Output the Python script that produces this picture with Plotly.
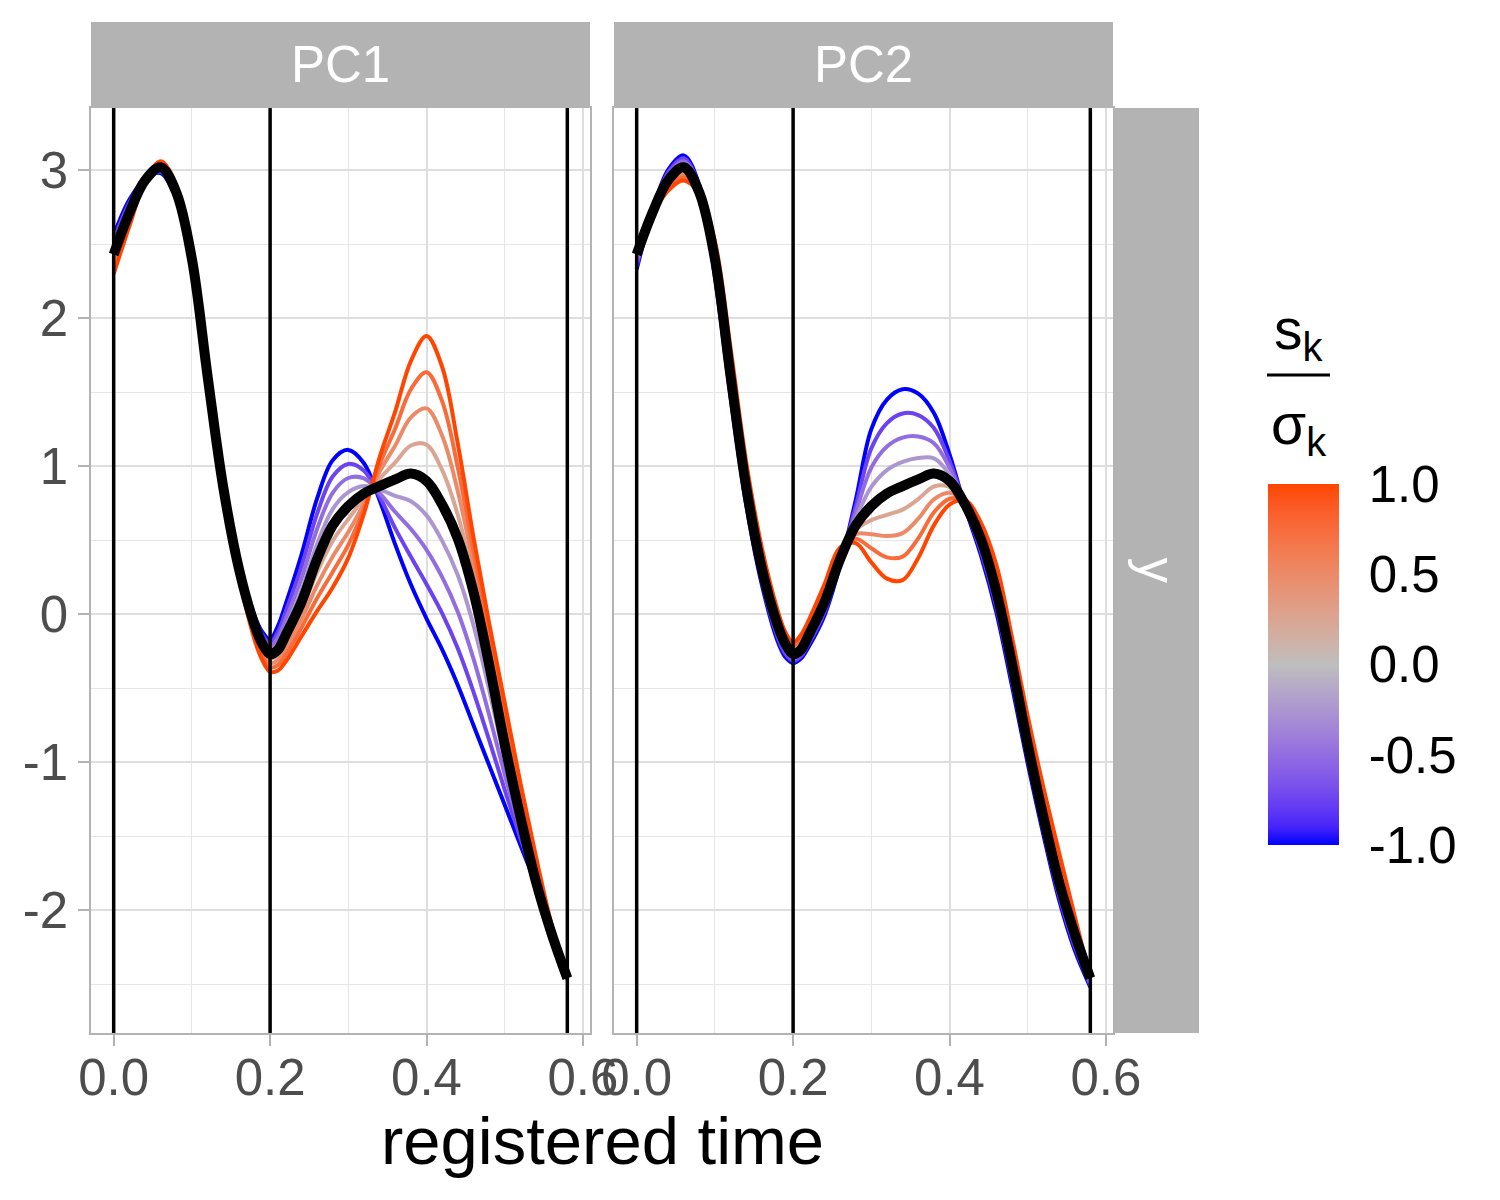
import numpy as np
import plotly.graph_objects as go

# registered time grid and curves
t_grid = [0.00, 0.02, 0.04, 0.06, 0.08, 0.10, 0.12, 0.14, 0.16, 0.18,
          0.19, 0.20, 0.21, 0.22, 0.24, 0.26, 0.28, 0.30, 0.32, 0.34,
          0.36, 0.38, 0.40, 0.42, 0.44, 0.46, 0.48, 0.50, 0.52, 0.54,
          0.56, 0.58]

mean_curve = [2.43, 2.71, 2.93, 3.02, 2.85, 2.40, 1.61, 0.86, 0.31, -0.07,
              -0.20, -0.27, -0.24, -0.14, 0.08, 0.37, 0.60, 0.73, 0.815, 0.865,
              0.91, 0.95, 0.90, 0.74, 0.51, 0.15, -0.34, -0.88, -1.37, -1.81,
              -2.16, -2.46]

# s_k / sigma_k = +1 and -1 curves
pc1_plus = [2.30, 2.62, 2.92, 3.06, 2.90, 2.43, 1.62, 0.84, 0.26, -0.17,
            -0.31, -0.39, -0.38, -0.32, -0.15, 0.02, 0.18, 0.38, 0.68, 1.06,
            1.37, 1.71, 1.88, 1.67, 1.15, 0.52, -0.06, -0.60, -1.14, -1.64,
            -2.10, -2.46]
pc1_minus = [2.56, 2.80, 2.94, 2.98, 2.81, 2.37, 1.60, 0.88, 0.35, -0.01,
             -0.12, -0.17, -0.08, 0.07, 0.40, 0.78, 1.04, 1.11, 1.02, 0.77,
             0.47, 0.20, -0.03, -0.24, -0.48, -0.75, -1.02, -1.29, -1.56, -1.83,
             -2.12, -2.47]

pc2_plus = [2.50, 2.70, 2.86, 2.93, 2.84, 2.52, 1.80, 1.03, 0.45, 0.03,
            -0.12, -0.19, -0.14, -0.04, 0.20, 0.45, 0.48, 0.35, 0.24, 0.23,
            0.38, 0.60, 0.74, 0.77, 0.62, 0.33, -0.16, -0.69, -1.17, -1.61,
            -2.04, -2.46]
pc2_minus = [2.33, 2.72, 3.00, 3.10, 2.90, 2.28, 1.47, 0.74, 0.20, -0.18,
             -0.29, -0.33, -0.30, -0.22, -0.01, 0.33, 0.77, 1.25, 1.45, 1.52,
             1.49, 1.36, 1.08, 0.72, 0.40, 0.01, -0.49, -1.01, -1.49, -1.93,
             -2.27, -2.52]

s_levels = [-1.0, -0.75, -0.5, -0.25, 0.0, 0.25, 0.5, 0.75, 1.0]
landmarks = [0.0, 0.2, 0.58]

panels = ["PC1", "PC2"]
x_ticks = [0.0, 0.2, 0.4, 0.6]
x_ticklabels = ["0.0", "0.2", "0.4", "0.6"]
y_ticks = [-2, -1, 0, 1, 2, 3]
y_ticklabels = ["-2", "-1", "0", "1", "2", "3"]
cb_ticks = [-1.0, -0.5, 0.0, 0.5, 1.0]
cb_ticklabels = ["-1.0", "-0.5", "0.0", "0.5", "1.0"]

# the page puts the figure 8px in from the top-left corner
OFF = 8
W, H = 1500 - 2 * OFF, 1200 - 2 * OFF
FONT = "Liberation Sans, Arial, sans-serif"


def px(x):
    return (x - OFF) / W


def py(y):
    return 1 - (y - OFF) / H


# ---- colour gradient (low blue, mid grey, high orangered, in Lab) ----
def _to_lab(hexc):
    rgb = [int(hexc[i:i + 2], 16) / 255 for i in (1, 3, 5)]
    lin = [c / 12.92 if c <= 0.04045 else ((c + 0.055) / 1.055) ** 2.4 for c in rgb]
    r, g, b = lin
    X = (0.4124564 * r + 0.3575761 * g + 0.1804375 * b) / 0.95047
    Y = 0.2126729 * r + 0.7151522 * g + 0.0721750 * b
    Z = (0.0193339 * r + 0.1191920 * g + 0.9503041 * b) / 1.08883
    d = 6 / 29
    f = lambda v: v ** (1 / 3) if v > d ** 3 else v / (3 * d * d) + 4 / 29
    fx, fy, fz = f(X), f(Y), f(Z)
    return 116 * fy - 16, 500 * (fx - fy), 200 * (fy - fz)


def _to_hex(lab):
    L, a, b = lab
    fy = (L + 16) / 116
    fx = fy + a / 500
    fz = fy - b / 200
    d = 6 / 29
    fi = lambda v: v ** 3 if v > d else 3 * d * d * (v - 4 / 29)
    X, Y, Z = fi(fx) * 0.95047, fi(fy), fi(fz) * 1.08883
    r = 3.2404542 * X - 1.5371385 * Y - 0.4985314 * Z
    g = -0.9692660 * X + 1.8760108 * Y + 0.0415560 * Z
    bb = 0.0556434 * X - 0.2040259 * Y + 1.0572252 * Z
    out = []
    for c in (r, g, bb):
        c = 12.92 * c if c <= 0.0031308 else 1.055 * c ** (1 / 2.4) - 0.055
        out.append(int(round(min(max(c, 0), 1) * 255)))
    return "#%02X%02X%02X" % tuple(out)


LOW, MID, HIGH = _to_lab("#0000FF"), _to_lab("#BEBEBE"), _to_lab("#FF4500")


def s_colour(s):
    end = HIGH if s >= 0 else LOW
    w = abs(s)
    return _to_hex(tuple(MID[i] + w * (end[i] - MID[i]) for i in range(3)))


colorscale = [[(v + 1) / 2, s_colour(v)] for v in np.linspace(-1, 1, 21)]

# ---- geometry (pixels of the target picture) ----
px_panels = [(91, 590), (614, 1113)]
py_top, py_bot = 108, 1033
strip_top = 22
rstrip = (1113, 1199)
cb_x0, cb_x1, cb_top, cb_bot = 1268, 1339, 484, 845

fig = go.Figure()

mean_arr = np.array(mean_curve)
extremes = [(np.array(pc1_plus), np.array(pc1_minus)),
            (np.array(pc2_plus), np.array(pc2_minus))]

for k, (plus, minus) in enumerate(extremes):
    xa = "x" if k == 0 else "x2"
    ya = "y" if k == 0 else "y2"
    for s in s_levels:
        end = plus if s >= 0 else minus
        yy = mean_arr + abs(s) * (end - mean_arr)
        fig.add_trace(go.Scatter(
            x=t_grid, y=yy, mode="lines", xaxis=xa, yaxis=ya,
            line=dict(color=s_colour(s), width=4, shape="spline", smoothing=1.0),
            showlegend=False, hoverinfo="skip"))
    fig.add_trace(go.Scatter(
        x=t_grid, y=mean_curve, mode="lines", xaxis=xa, yaxis=ya,
        line=dict(color="black", width=10, shape="spline", smoothing=1.0),
        showlegend=False, hoverinfo="skip"))

# colour bar carrier (point sits outside the visible range)
fig.add_trace(go.Scatter(
    x=[0.3], y=[50], mode="markers", xaxis="x", yaxis="y",
    marker=dict(color=[0], cmin=-1, cmax=1, colorscale=colorscale, showscale=True,
                colorbar=dict(
                    x=px(cb_x0), xanchor="left", xpad=0,
                    y=py((cb_top + cb_bot) / 2), yanchor="middle", ypad=0,
                    len=cb_bot - cb_top, lenmode="pixels",
                    thickness=cb_x1 - cb_x0, thicknessmode="pixels",
                    outlinewidth=0,
                    tickvals=cb_ticks, ticktext=cb_ticklabels,
                    ticks="outside", ticklen=20, tickcolor="rgba(0,0,0,0)",
                    tickfont=dict(size=51, color="black", family=FONT),
                    title=dict(text=""))),
    showlegend=False, hoverinfo="skip"))

axis_common = dict(
    showgrid=True, gridcolor="#DEDEDE", gridwidth=1.6, zeroline=False,
    showline=True, mirror=True, linecolor="#B3B3B3", linewidth=1.5,
    ticks="outside", ticklen=11, tickwidth=1.5, tickcolor="#B3B3B3",
    tickfont=dict(size=51, color="#4D4D4D", family=FONT),
    automargin=False,
)

x_range = [-0.029, 0.609]
y_range = [-2.83, 3.42]
y_dom = [py(py_bot), py(py_top)]

layout = dict(
    width=W, height=H, autosize=False,
    margin=dict(l=0, r=0, t=0, b=0, pad=0, autoexpand=False),
    paper_bgcolor="white", plot_bgcolor="white",
    font=dict(family=FONT),
    showlegend=False,
)
for k, (x0, x1) in enumerate(px_panels):
    suffix = "" if k == 0 else "2"
    layout["xaxis" + suffix] = dict(
        axis_common, domain=[px(x0), px(x1)], range=x_range, anchor="y" + suffix,
        tickvals=x_ticks, ticktext=x_ticklabels, ticklabelstandoff=-12,
        minor=dict(tickvals=[0.1, 0.3, 0.5], showgrid=True, gridcolor="#E6E6E6",
                   gridwidth=1, ticks=""))
    ydict = dict(
        axis_common, domain=y_dom, range=y_range, anchor="x" + suffix,
        tickvals=y_ticks, ticktext=y_ticklabels,
        minor=dict(tickvals=[-2.5, -1.5, -0.5, 0.5, 1.5, 2.5], showgrid=True,
                   gridcolor="#E6E6E6", gridwidth=1, ticks=""))
    if k == 1:
        ydict.update(showticklabels=False, ticks="", matches="y")
    layout["yaxis" + suffix] = ydict
fig.update_layout(**layout)

shapes = []
annotations = []
# landmark lines
for k in range(2):
    suffix = "" if k == 0 else "2"
    for lm in landmarks:
        shapes.append(dict(type="line", xref="x" + suffix, yref="y" + suffix + " domain",
                           x0=lm, x1=lm, y0=0, y1=1, layer="above",
                           line=dict(color="black", width=3.5)))
# facet strips
for name, (x0, x1) in zip(panels, px_panels):
    shapes.append(dict(type="rect", xref="paper", yref="paper",
                       x0=px(x0), x1=px(x1), y0=py(py_top), y1=py(strip_top),
                       fillcolor="#B3B3B3", line=dict(width=0), layer="above"))
    annotations.append(dict(text=name, xref="paper", yref="paper",
                            x=px((x0 + x1) / 2), y=py((py_top + strip_top) / 2),
                            showarrow=False, xanchor="center", yanchor="middle",
                            font=dict(size=51, color="white", family=FONT)))
shapes.append(dict(type="rect", xref="paper", yref="paper",
                   x0=px(rstrip[0]), x1=px(rstrip[1]), y0=y_dom[0], y1=y_dom[1],
                   fillcolor="#B3B3B3", line=dict(width=0), layer="above"))
annotations.append(dict(text="y", xref="paper", yref="paper",
                        x=px((rstrip[0] + rstrip[1]) / 2), y=sum(y_dom) / 2,
                        showarrow=False, textangle=90, xanchor="center", yanchor="middle",
                        font=dict(size=51, color="white", family=FONT)))
# x axis title
annotations.append(dict(text="registered time", xref="paper", yref="paper",
                        x=px((px_panels[0][0] + px_panels[1][1]) / 2), y=py(1140),
                        showarrow=False, xanchor="center", yanchor="middle",
                        font=dict(size=67, color="black", family=FONT)))
# colour bar title as a fraction
annotations.append(dict(text="s<sub>k</sub>", xref="paper", yref="paper",
                        x=px(1298), y=py(333), showarrow=False,
                        xanchor="center", yanchor="middle",
                        font=dict(size=57, color="black", family=FONT)))
annotations.append(dict(text="σ<sub>k</sub>", xref="paper", yref="paper",
                        x=px(1298), y=py(428), showarrow=False,
                        xanchor="center", yanchor="middle",
                        font=dict(size=57, color="black", family=FONT)))
shapes.append(dict(type="line", xref="paper", yref="paper",
                   x0=px(1267), x1=px(1330), y0=py(375), y1=py(375),
                   line=dict(color="black", width=3)))
# white tick marks on both sides of the colour bar
for v in cb_ticks:
    ypx = cb_bot - (v + 1) / 2 * (cb_bot - cb_top)
    for a, b in ((cb_x0, cb_x0 + 17), (cb_x1 - 17, cb_x1)):
        shapes.append(dict(type="line", xref="paper", yref="paper",
                           x0=px(a), x1=px(b), y0=py(ypx), y1=py(ypx),
                           line=dict(color="white", width=2)))

fig.update_layout(shapes=shapes, annotations=annotations)
fig.write_html("out.html")
